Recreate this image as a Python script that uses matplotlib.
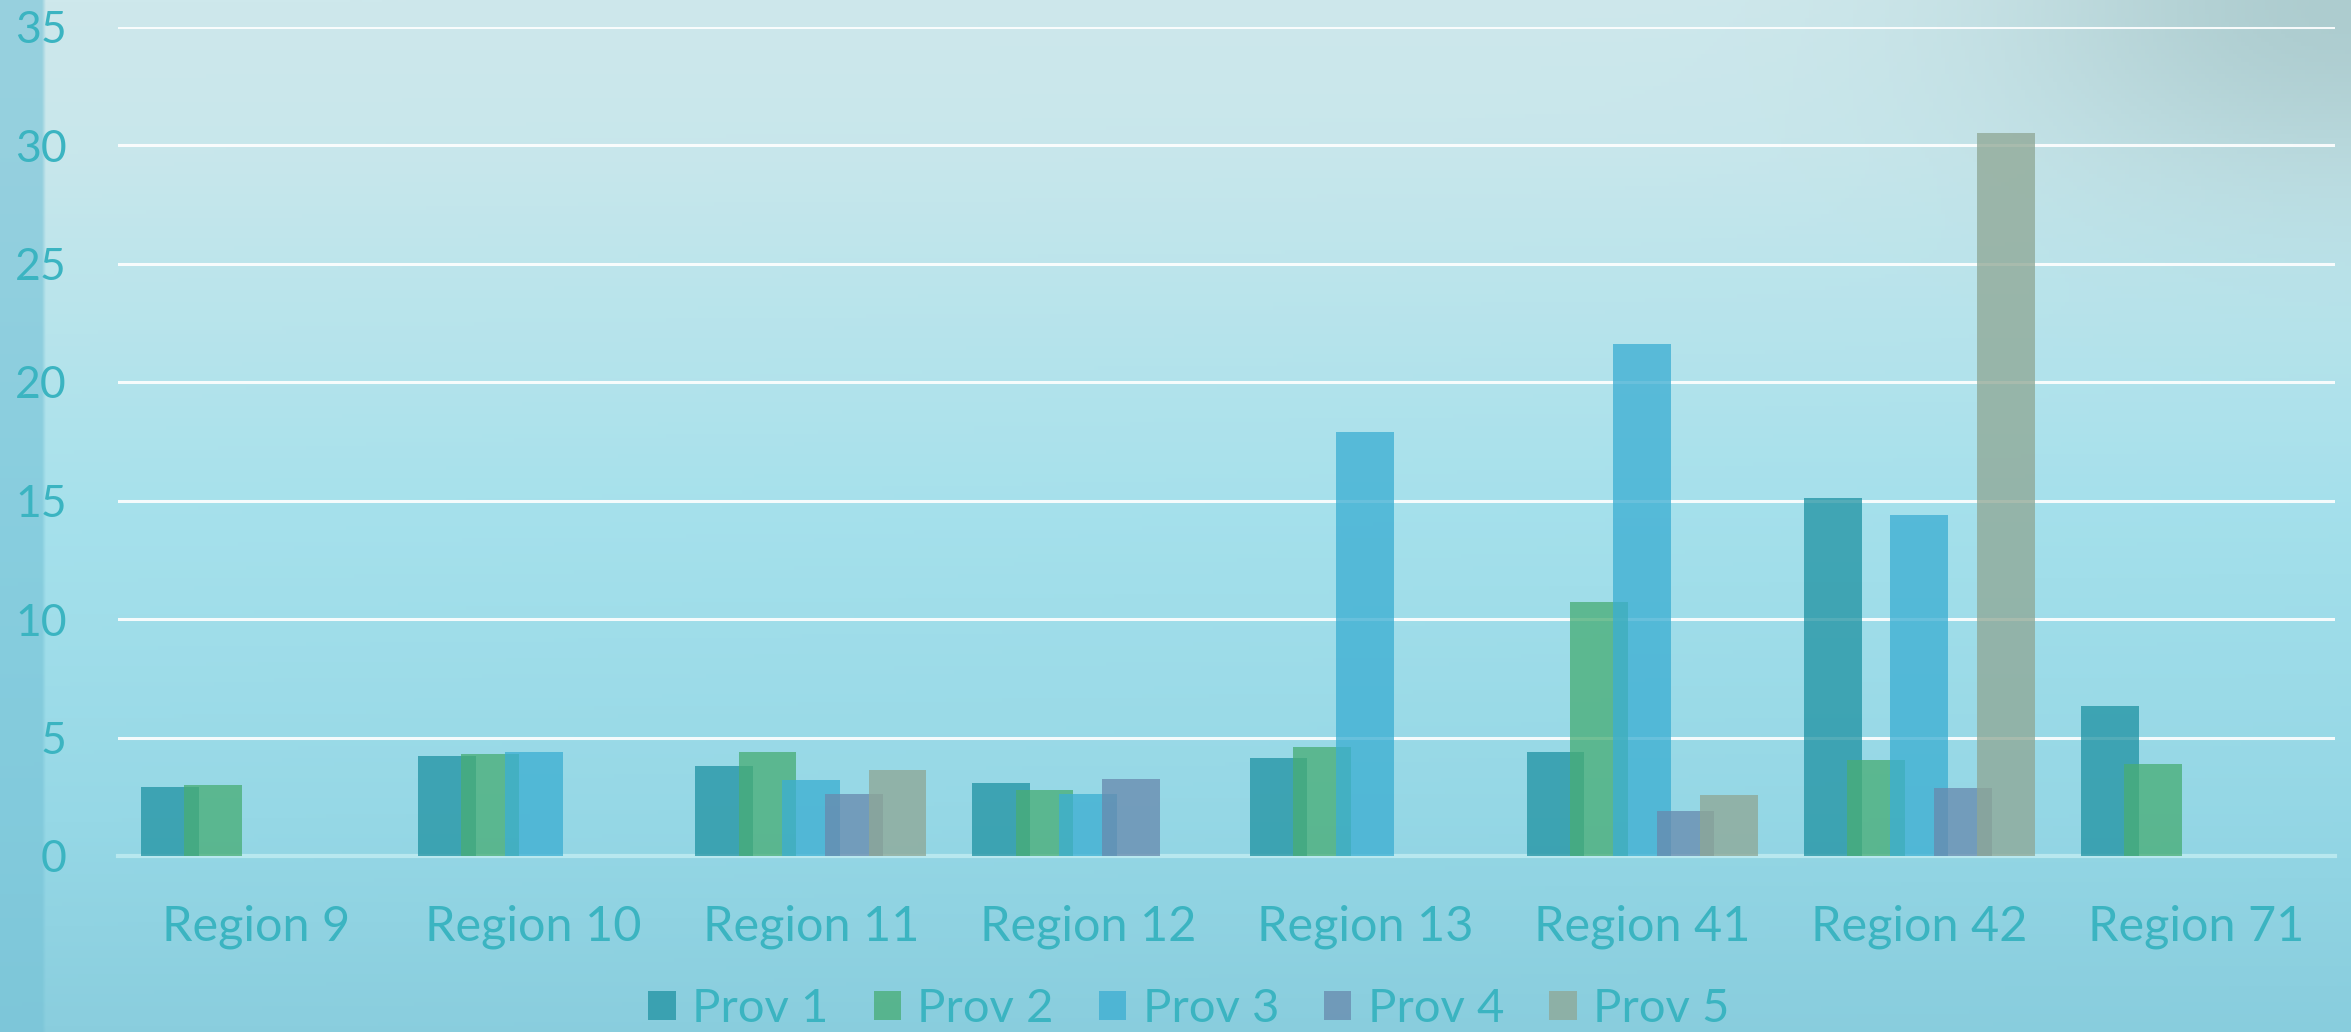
import numpy as np
import matplotlib
matplotlib.use("Agg")
import matplotlib.pyplot as plt

# ---- data -------------------------------------------------------------
regions = ["Region 9", "Region 10", "Region 11", "Region 12",
           "Region 13", "Region 41", "Region 42", "Region 71"]
series_names = ["Prov 1", "Prov 2", "Prov 3", "Prov 4", "Prov 5"]
nan = np.nan
prov1 = [2.9, 4.2, 3.8, 3.1, 4.15, 4.4, 15.1, 6.35]
prov2 = [3.0, 4.3, 4.4, 2.77, 4.6, 10.7, 4.06, 3.9]
prov3 = [nan, 4.4, 3.2, 2.62, 17.9, 21.6, 14.4, nan]
prov4 = [nan, nan, 2.63, 3.27, nan, 1.9, 2.86, nan]
prov5 = [nan, nan, 3.63, nan, nan, 2.57, 30.5, nan]
y_ticks = [0, 5, 10, 15, 20, 25, 30, 35]

series = [prov1, prov2, prov3, prov4, prov5]
colors = ["#2193a3", "#48ad75", "#3caed2", "#688aae", "#8fa795"]
text_color = "#3bb4c1"

plt.rcParams["font.family"] = ["Lato", "DejaVu Sans"]

W_PX, H_PX, DPI = 2351, 1032, 100
fig = plt.figure(figsize=(W_PX / DPI, H_PX / DPI), dpi=DPI)

# ---- watery backdrop ----------------------------------------------------
h, w = 258, 588
yy = np.linspace(0, 1, h)[:, None] * np.ones((1, w))
xx = np.ones((h, 1)) * np.linspace(0, 1, w)[None, :]
stops = [0.0, 0.15, 0.5, 0.8, 1.0]
top_cols = np.array([(206, 232, 236), (200, 231, 236), (166, 225, 236),
                     (150, 216, 230), (138, 206, 222)], float)
bg = np.zeros((h, w, 3))
for c in range(3):
    bg[..., c] = np.interp(yy, stops, top_cols[:, c])
# slightly deeper tone toward the lower right
shade = np.clip(xx * yy, 0, 1)[..., None]
bg = bg * (1 - 0.08 * shade) + np.array([120, 195, 215]) * 0.08 * shade
# grey-teal haze in the upper right corner
blob = np.exp(-(((xx - 1.0) / 0.14) ** 2 + ((yy - 0.0) / 0.18) ** 2))
blob = (0.6 * blob)[..., None]
bg = bg * (1 - blob) + np.array([152, 186, 188]) * blob
# darker band along the left edge
strip = (xx < 43 / W_PX)[..., None] * 0.62
bg = bg * (1 - strip) + np.array([118, 194, 214]) * strip

ax_bg = fig.add_axes([0, 0, 1, 1], zorder=-5)
ax_bg.imshow(bg.astype(np.uint8), aspect="auto", interpolation="bilinear",
             extent=[0, 1, 0, 1])
ax_bg.set_axis_off()

# ---- chart ------------------------------------------------------------
left, right = 118 / W_PX, 2335 / W_PX
bottom, top = (H_PX - 856) / H_PX, (H_PX - 26.5) / H_PX
ax = fig.add_axes([left, bottom, right - left, top - bottom])
ax.patch.set_alpha(0)

x = np.arange(len(regions))
bar_w = 0.2084
step = bar_w * 0.75
handles = []
for j, (vals, col, name) in enumerate(zip(series, colors, series_names)):
    b = ax.bar(x + (j - 2) * step, vals, width=bar_w, color=col, alpha=0.76,
               label=name, zorder=2, linewidth=0)
    handles.append(b)

ax.set_xlim(-0.5, len(regions) - 0.5)
ax.set_ylim(0, 35)
ax.set_yticks(y_ticks)
ax.set_yticklabels([str(t) for t in y_ticks])
ax.set_xticks(x)
ax.set_xticklabels(regions)

ax.grid(axis="y", color="white", linewidth=2.2, alpha=0.9, zorder=0)
ax.set_axisbelow(True)
for s in ["top", "right", "left"]:
    ax.spines[s].set_visible(False)
ax.spines["bottom"].set_color("#b8e8ef")
ax.spines["bottom"].set_linewidth(3)
ax.spines["bottom"].set_zorder(1)

ax.tick_params(axis="y", length=0, pad=37, labelsize=32, labelcolor=text_color)
ax.tick_params(axis="x", length=0, pad=35, labelsize=35, labelcolor=text_color)

leg = fig.legend(handles=handles, labels=series_names, loc="center",
                 bbox_to_anchor=(0.5057, 0.022), ncol=5, frameon=False,
                 fontsize=34, handlelength=0.58, handleheight=0.58,
                 handletextpad=0.35, columnspacing=0.95, borderpad=0)
for t in leg.get_texts():
    t.set_color(text_color)

fig.savefig("out.png", dpi=DPI)
